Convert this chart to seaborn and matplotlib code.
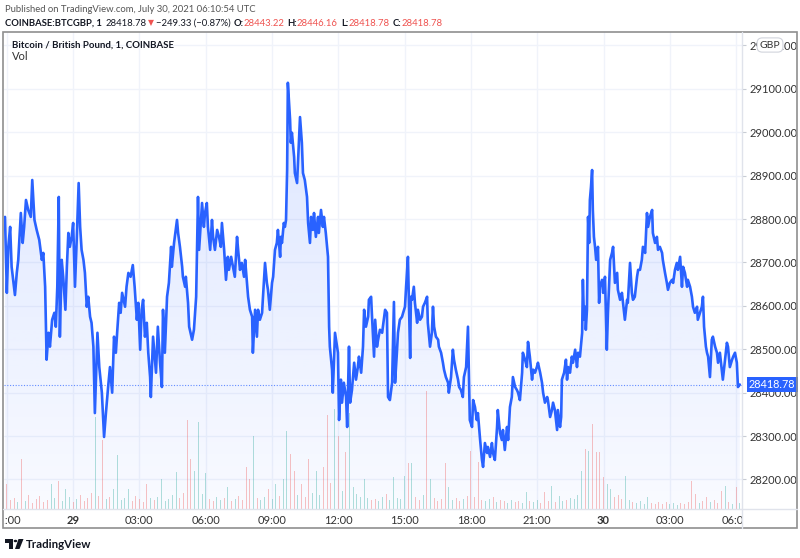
import numpy as np
import pandas as pd
import matplotlib
matplotlib.use("Agg")
import matplotlib.pyplot as plt
import matplotlib.dates as mdates
import seaborn as sns
from matplotlib.patches import Polygon, Rectangle, Circle
from matplotlib.lines import Line2D
from matplotlib.transforms import Bbox, TransformedBbox

# 1-minute BTC/GBP close, sampled; minutes after 2021-07-28 20:55 UTC
minutes = [
    0, 5, 9, 14, 18, 23, 27, 32, 36, 43, 48, 52, 57, 63, 70, 74, 80, 86, 93, 100,
    104, 109, 113, 118, 122, 128, 134, 138, 142, 146, 149, 154, 158, 164, 168, 172, 176, 181, 185, 190,
    195, 200, 204, 208, 213, 217, 222, 226, 231, 235, 240, 244, 251, 256, 263, 269, 274, 280, 285, 291,
    296, 301, 305, 310, 314, 318, 326, 330, 335, 341, 347, 352, 358, 362, 367, 371, 375, 380, 385, 389,
    394,
    396, 402, 410, 415, 421, 426, 429, 434, 440, 445, 451, 453, 459, 467, 470, 475, 481, 483, 489, 491,
    497, 500, 508, 513, 519, 524, 527, 532, 535, 540, 543, 548, 551, 557, 562, 565, 570, 576, 581, 586,
    589, 595, 600, 605, 608, 614, 619, 624, 630, 633, 638, 643, 649, 652, 657, 660, 665, 671, 673, 679,
    684, 687, 692, 698, 700, 706, 711, 714, 719, 725, 728, 733, 738, 741, 747, 749, 752, 757, 760, 763,
    766, 768, 774, 776, 779, 785, 787, 793, 795, 801, 806, 809, 814, 820, 823, 828, 831, 836, 839, 844,
    850, 852, 858, 863, 866, 871, 877, 880, 882, 888, 890, 896,
    904, 907, 912, 915, 920, 926, 929, 934, 937, 942, 948, 953, 958, 961, 967, 972, 975, 980, 986, 988,
    994, 996, 1002, 1005, 1010, 1013, 1018, 1024, 1026, 1032, 1037, 1040, 1045, 1051, 1056, 1059, 1064, 1067, 1072, 1078,
    1081, 1086, 1089, 1094, 1097, 1100, 1102, 1105, 1110, 1113, 1119, 1121, 1127, 1132, 1135, 1140, 1146, 1148, 1154, 1159,
    1162, 1165, 1170, 1176, 1178, 1184, 1189, 1192, 1197, 1203, 1205, 1211, 1216, 1219, 1224, 1230, 1233, 1238, 1243, 1246,
    1252, 1257, 1260, 1262, 1268, 1271, 1276, 1281, 1284, 1290, 1295, 1298, 1303, 1309, 1311, 1317, 1322, 1325, 1330, 1336,
    1338, 1344, 1349, 1352, 1357, 1363, 1366, 1371, 1376, 1379, 1385, 1390, 1393, 1398, 1404, 1406, 1412, 1417, 1420, 1425,
    1431, 1434, 1439, 1444, 1447, 1453, 1458, 1461, 1466, 1472, 1474, 1480, 1485, 1488, 1493, 1499, 1501, 1507,
    1510, 1512, 1518, 1523, 1526, 1529, 1534, 1539, 1542, 1548, 1553, 1556, 1561, 1567, 1569, 1572, 1575, 1577, 1580, 1583,
    1586, 1588, 1591, 1594, 1596, 1599, 1602, 1605, 1610, 1613, 1615, 1621, 1624, 1629, 1634, 1637, 1643, 1648, 1651, 1656,
    1662, 1664, 1670, 1675, 1678, 1683, 1689, 1691, 1697, 1702, 1705, 1710, 1716, 1719, 1724, 1729, 1732, 1738, 1743, 1746,
    1751, 1757, 1759, 1765, 1770, 1773, 1778, 1784, 1786, 1792, 1797, 1800, 1805, 1811, 1814, 1819, 1824, 1827, 1833, 1838,
    1841, 1846, 1852, 1854, 1860, 1865, 1868, 1873, 1879, 1881, 1887, 1892, 1895, 1898, 1903, 1906, 1909, 1914, 1919, 1922,
    1928, 1933, 1936, 1941, 1947, 1949, 1955, 1960, 1963, 1968, 1974, 1977, 1982, 1987, 1990, 1995,
]
close = [
    28805, 28630, 28736, 28782, 28690, 28653, 28625, 28676, 28706, 28814, 28745, 28782, 28844, 28821, 28805, 28890, 28798, 28775, 28752, 28706,
    28722, 28644, 28476, 28538, 28506, 28568, 28584, 28552, 28644, 28851, 28529, 28706, 28667, 28591, 28690, 28768, 28736, 28759, 28791, 28644,
    28759, 28883, 28782, 28729, 28706, 28676, 28598, 28621, 28575, 28561, 28506, 28353, 28538, 28459, 28400, 28298, 28353, 28413, 28459, 28400,
    28529, 28492, 28545, 28607, 28584, 28630, 28598, 28644, 28676, 28667, 28694, 28644, 28568, 28607, 28499, 28591, 28614, 28529, 28561, 28492,
    28436,
    28390, 28529, 28446, 28552, 28469, 28413, 28591, 28492, 28621, 28653, 28736, 28690, 28745, 28798, 28768, 28736, 28690, 28667, 28644, 28667,
    28607, 28552, 28522, 28545, 28621, 28851, 28729, 28798, 28837, 28782, 28814, 28837, 28782, 28729, 28798, 28759, 28729, 28775, 28759, 28736,
    28791, 28729, 28660, 28713, 28683, 28713, 28690, 28667, 28759, 28729, 28683, 28699, 28667, 28706, 28653, 28621, 28591, 28575, 28492, 28591,
    28529, 28591, 28568, 28584, 28614, 28699, 28653, 28637, 28591, 28653, 28667, 28729, 28745, 28775, 28713, 28759, 28745, 28791, 28782, 28798,
    28913, 29114, 29029, 28976, 28999, 28943, 28906, 28883, 28920, 29035, 28976, 28906, 28890, 28851, 28791, 28745, 28805, 28775, 28814, 28759,
    28805, 28768, 28821, 28782, 28805, 28768, 28713, 28552, 28506, 28453, 28400, 28538,
    28492, 28337, 28430, 28377, 28423, 28390, 28321, 28506, 28377, 28406, 28469, 28430, 28459, 28483, 28446, 28506, 28591, 28552, 28575, 28614,
    28621, 28584, 28483, 28568, 28506, 28522, 28545, 28538, 28552, 28591, 28584, 28390, 28383, 28423, 28609, 28423, 28492, 28538, 28568, 28575,
    28584, 28598, 28644, 28713, 28598, 28480, 28621, 28614, 28644, 28607, 28561, 28591, 28568, 28575, 28598, 28607, 28621, 28561, 28506, 28538,
    28598, 28552, 28529, 28522, 28506, 28492, 28469, 28453, 28436, 28423, 28400, 28436, 28499, 28476, 28453, 28430, 28413, 28406, 28390, 28436,
    28459, 28552, 28430, 28337, 28321, 28383, 28367, 28337, 28353, 28291, 28245, 28229, 28284, 28261, 28275, 28252, 28284, 28261, 28245, 28321,
    28360, 28307, 28291, 28314, 28268, 28321, 28291, 28367, 28390, 28436, 28413, 28406, 28400, 28383, 28446, 28492, 28476, 28459, 28517, 28483,
    28430, 28453, 28446, 28459, 28469, 28446, 28423, 28400, 28377, 28390, 28383, 28344, 28360, 28377, 28360, 28314, 28360, 28321,
    28344, 28430, 28446, 28476, 28430, 28459, 28446, 28483, 28469, 28499, 28459, 28492, 28483, 28538, 28660, 28568, 28598, 28545, 28591, 28805,
    28745, 28844, 28874, 28913, 28821, 28759, 28736, 28706, 28736, 28607, 28644, 28660, 28630, 28667, 28499, 28584, 28706, 28722, 28736, 28653,
    28676, 28637, 28614, 28630, 28607, 28568, 28614, 28607, 28699, 28630, 28614, 28621, 28667, 28683, 28683, 28706, 28736, 28722, 28814, 28782,
    28805, 28821, 28768, 28745, 28759, 28729, 28736, 28722, 28706, 28676, 28653, 28637, 28653, 28660, 28653, 28683, 28699, 28683, 28713, 28644,
    28690, 28676, 28644, 28660, 28644, 28621, 28598, 28584, 28598, 28568, 28584, 28598, 28621, 28552, 28506, 28492, 28483, 28436, 28522, 28529,
    28506, 28492, 28469, 28492, 28446, 28430, 28476, 28515, 28506, 28459, 28476, 28483, 28492, 28469, 28413, 28418.78,
]

# traded volume (BTC) per 10-minute bucket, first bucket 2021-07-28 21:00 UTC
volume = [
    2.5, 0.9, 1.1, 0.7, 5.0, 0.8, 1.4, 0.6, 1.0, 1.3, 0.7, 0.9, 2.5, 1.1, 2.8, 0.8, 2.0, 1.2, 0.7, 1.0,
    1.4, 0.8, 1.1, 1.6, 9.2, 1.3, 6.9, 1.0, 1.2, 2.0, 5.4, 0.9, 1.1, 2.0, 0.8, 1.3, 1.0, 0.7, 2.5, 1.1,
    0.9, 1.2, 3.0, 0.8, 1.0, 1.4, 3.7, 1.1, 1.6, 8.9, 5.0, 3.8, 8.7, 1.5, 3.6, 1.0, 0.8, 1.2, 0.9, 1.1,
    2.2, 0.8, 1.0, 1.3, 0.9, 4.2, 3.0, 7.3, 1.1, 0.9, 1.2, 2.0, 1.0, 2.5, 1.3, 3.0, 7.8, 5.5, 3.8, 1.4,
    2.5, 1.2, 5.0, 1.6, 3.8, 1.4, 4.2, 9.4, 2.6, 10.0, 7.3, 1.8, 5.7, 9.6, 2.2, 1.5, 1.2, 3.0, 1.1, 0.9,
    1.0, 0.8, 1.2, 1.5, 0.9, 3.2, 1.1, 1.0, 3.3, 4.6, 4.6, 1.2, 0.9, 1.4, 11.8, 3.0, 1.1, 0.8, 1.0, 4.6,
    2.2, 0.9, 1.1, 0.8, 1.0, 1.3, 5.8, 1.2, 4.7, 0.9, 0.8, 1.0, 1.2, 0.7, 0.9, 0.8, 0.6, 0.9, 0.7, 0.8,
    0.6, 1.7, 0.8, 0.7, 0.9, 0.6, 1.7, 0.8, 2.3, 0.7, 1.3, 0.8, 0.9, 1.1, 1.0, 1.4, 3.8, 6.0, 5.8, 8.5,
    5.7, 5.7, 3.2, 2.5, 2.0, 1.2, 1.4, 1.0, 3.3, 0.9, 0.7, 0.6, 0.8, 0.5, 1.2, 0.6, 0.5, 0.7, 0.5, 0.7,
    0.5, 0.6, 0.4, 0.6, 0.5, 0.7, 2.8, 1.5, 0.6, 0.8, 1.2, 0.7, 0.9, 0.6, 1.8, 2.3, 0.7, 0.5, 2.2, 0.6,
]

price_ticks = [28200, 28300, 28400, 28500, 28600, 28700, 28800, 28900, 29000, 29100, 29200]
time_labels = ["21:00", "29", "03:00", "06:00", "09:00", "12:00",
               "15:00", "18:00", "21:00", "30", "03:00", "06:00"]
last_price = 28418.78

BLUE = "#2962FF"
UP, DOWN = "#26a69a", "#ef5350"
TXT = "#131722"

sns.set_style("white")
plt.rcParams["font.family"] = ["Lato", "DejaVu Sans"]

W, H = 800, 558
fig = plt.figure(figsize=(W / 100, H / 100), dpi=100)
renderer = fig.canvas.get_renderer()


def fx(px):
    return px / W


def fy(py):
    return 1 - py / H


def fit_text(px, py, s, width_px, size=8, **kw):
    # place a text and scale its size so it spans width_px like the reference
    txt = fig.text(fx(px), fy(py), s, fontsize=size, va="center", **kw)
    w = txt.get_window_extent(renderer).width
    txt.set_fontsize(size * width_px / w)
    return txt


ax = fig.add_axes([fx(4), fy(509), fx(742) - fx(4), fy(32) - fy(509)])

base = pd.Timestamp("2021-07-28 20:55")
t = mdates.date2num((base + pd.to_timedelta(minutes, unit="min")).to_numpy())
ymin, ymax = 28132, 29231
VOL_TOP = 47.7  # volume value reaching the top of the pane

# gradient area under the price line
grad = np.zeros((256, 1, 4))
grad[..., 0], grad[..., 1], grad[..., 2] = 41 / 255, 98 / 255, 1.0
grad[:, 0, 3] = np.linspace(0.18, 0.03, 256)
poly = Polygon(np.column_stack([np.r_[t[0], t, t[-1]], np.r_[ymin, close, ymin]]),
               closed=True, fc="none", ec="none")
ax.add_patch(poly)
im = ax.imshow(grad, extent=[t[0], t[-1], ymin, ymax], aspect="auto",
               origin="upper", zorder=1, interpolation="bilinear")
im.set_clip_path(poly)

# volume bars, coloured by direction of price in the bucket
start = pd.Timestamp("2021-07-28 21:00")
vt = mdates.date2num((start + pd.to_timedelta(np.arange(len(volume)) * 10, unit="min")).to_numpy())
p0 = np.interp(vt - 5 / 1440, t, close)
p1 = np.interp(vt + 5 / 1440, t, close)
colors = np.where(p1 >= p0, UP, DOWN)
ax.bar(vt, np.array(volume) / VOL_TOP, width=2.7 / 1440, color=colors, alpha=0.35,
       linewidth=0, transform=ax.get_xaxis_transform(), zorder=2)

sns.lineplot(x=t, y=close, ax=ax, color=BLUE, linewidth=1.9,
             estimator=None, sort=False, zorder=3)
ax.axhline(last_price, color=BLUE, lw=0.8, ls=(0, (1, 1.5)), alpha=0.7, zorder=2.5)

ax.set_xlim(mdates.date2num(base - pd.Timedelta(minutes=2.7)),
            mdates.date2num(base + pd.Timedelta(minutes=2001)))
ax.set_ylim(ymin, ymax)

tick_times = pd.date_range("2021-07-28 21:00", periods=len(time_labels), freq="3h")
ax.set_xticks(mdates.date2num(tick_times.to_numpy()))
ax.set_xticklabels(time_labels)
ax.set_yticks(price_ticks)
ax.set_yticklabels([f"{p:.2f}" for p in price_ticks])
ax.yaxis.tick_right()
ax.grid(True, color="#f0f3fa", lw=1)
ax.set_axisbelow(True)
ax.set_xlabel("")
ax.set_ylabel("")
for s in ax.spines.values():
    s.set_visible(False)
ax.tick_params(axis="x", length=0, pad=4.5, labelsize=8, labelcolor="#333333")
ax.tick_params(axis="y", length=3, width=0.8, color="#c8ccd4", pad=2.5,
               labelsize=8, labelcolor="#333333")
clip = TransformedBbox(Bbox.from_extents(fx(4), 0, fx(742), 1), fig.transFigure)
for lbl in ax.get_xticklabels():
    if lbl.get_text() in ("29", "30"):
        lbl.set_fontweight("bold")
    lbl.set_clip_on(True)
    lbl.set_clip_box(clip)

ax.text(1.0095, last_price, f"{last_price:.2f}", transform=ax.get_yaxis_transform(),
        color="white", fontsize=7.8, va="center", ha="left", clip_on=False, zorder=10,
        bbox=dict(boxstyle="square,pad=0.2", fc=BLUE, ec="none"))

# frame and pane separators
fig.add_artist(Rectangle((fx(3), fy(528)), fx(797) - fx(3), fy(32) - fy(528),
                         transform=fig.transFigure, fill=False, ec="#8f8f8f", lw=1.2))
fig.add_artist(Line2D([fx(742), fx(742)], [fy(32), fy(528)], color="#e0e3eb", lw=1,
                      transform=fig.transFigure))
fig.add_artist(Line2D([fx(3), fx(797)], [fy(509), fy(509)], color="#e0e3eb", lw=1,
                      transform=fig.transFigure))

fig.text(fx(770), fy(45), "GBP", ha="center", va="center", fontsize=7.5, color="#333333",
         bbox=dict(boxstyle="round,pad=0.25,rounding_size=0.5", fc="white", ec="#d1d4dc", lw=0.8))

# header
fit_text(5, 9, "Published on TradingView.com, July 30, 2021 06:10:54 UTC", 252,
         color="#555555")
pieces = [
    ("COINBASE:BTCGBP, 1", "bold", TXT, 3),
    ("28418.78", "normal", TXT, 2),
    ("▼", "normal", DOWN, 2),
    ("−249.33 (−0.87%)", "normal", TXT, 2),
    ("O:", "bold", TXT, 0),
    ("28443.22", "normal", DOWN, 3),
    ("H:", "bold", TXT, 0),
    ("28446.16", "normal", DOWN, 3),
    ("L:", "bold", TXT, 0),
    ("28418.78", "normal", DOWN, 3),
    ("C:", "bold", TXT, 0),
    ("28418.78", "normal", DOWN, 0),
]
arts = [fig.text(0, fy(23), s, fontsize=8 if s != "▼" else 6.5, fontweight=wt, color=col,
                 va="center") for s, wt, col, _ in pieces]
widths = [a.get_window_extent(renderer).width for a in arts]
gaps = [g for *_, g in pieces]
scale = (442 - 5 - sum(gaps)) / sum(widths)
cur = 5
for a, w, g in zip(arts, widths, gaps):
    a.set_fontsize(a.get_fontsize() * scale)
    a.set_x(fx(cur))
    cur += w * scale + g

fit_text(12, 45, "Bitcoin / British Pound, 1, COINBASE", 161, fontweight="bold", color=TXT)
fig.text(fx(12), fy(57), "Vol", fontsize=8, color="#333333", va="center")

# TradingView logo
fig.add_artist(Rectangle((fx(5), fy(543)), fx(8), fy(539) - fy(543),
                         transform=fig.transFigure, fc=TXT, ec="none"))
fig.add_artist(Rectangle((fx(9), fy(549)), fx(3.5), fy(539) - fy(549),
                         transform=fig.transFigure, fc=TXT, ec="none"))
fig.add_artist(Circle((fx(15.5), fy(541)), fx(1.8), transform=fig.transFigure,
                      fc=TXT, ec="none"))
fig.add_artist(Polygon([(fx(18.5), fy(539)), (fx(23.5), fy(539)), (fx(19.5), fy(549)),
                        (fx(15), fy(549))], closed=True, transform=fig.transFigure,
                       fc=TXT, ec="none"))
fit_text(26, 544, "TradingView", 66, size=10.5, fontweight="bold", color=TXT)

fig.savefig("out.png", dpi=100)
